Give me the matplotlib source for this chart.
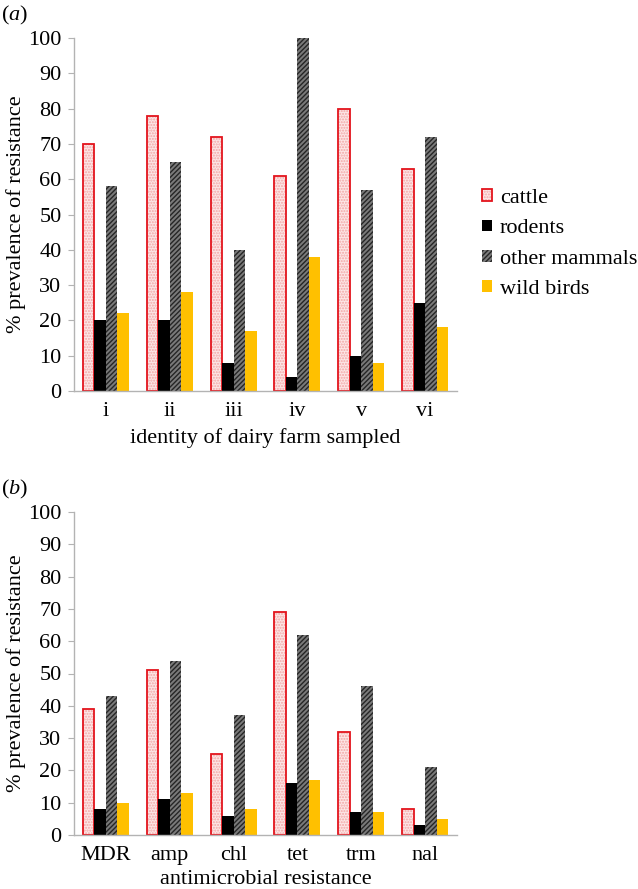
import matplotlib
matplotlib.use("Agg")
import numpy as np
import matplotlib.pyplot as plt
from matplotlib.patches import Patch

plt.rcParams['font.family'] = ['Liberation Serif', 'DejaVu Serif']
plt.rcParams['mathtext.fontset'] = 'custom'
plt.rcParams['mathtext.it'] = 'Liberation Serif:italic'
plt.rcParams['mathtext.rm'] = 'Liberation Serif'
plt.rcParams['hatch.linewidth'] = 1.0

farms = ["i", "ii", "iii", "iv", "v", "vi"]
cattle_a = [70, 78, 72, 61, 80, 63]
rodents_a = [20, 20, 8, 4, 10, 25]
mammals_a = [58, 65, 40, 100, 57, 72]
birds_a = [22, 28, 17, 38, 8, 18]

drugs = ["MDR", "amp", "chl", "tet", "trm", "nal"]
cattle_b = [39, 51, 25, 69, 32, 8]
rodents_b = [8, 11, 6, 16, 7, 3]
mammals_b = [43, 54, 37, 62, 46, 21]
birds_b = [10, 13, 8, 17, 7, 5]

series_names = ["cattle", "rodents", "other mammals", "wild birds"]

W, H = 638, 889
fig = plt.figure(figsize=(W / 100, H / 100), dpi=100)

GRAY = "#b3b3b3"
FS = 16
bw = 0.18


def styles():
    return [
        [dict(facecolor="#fde6e6", edgecolor="#f2a5a5", hatch="......", linewidth=0),
         dict(fill=False, edgecolor="#e3141c", linewidth=1.3)],
        [dict(facecolor="black", edgecolor="black", linewidth=0)],
        [dict(facecolor="#7a7a7a", edgecolor="#262626", hatch="///////", linewidth=0)],
        [dict(facecolor="#ffc000", edgecolor="#ffc000", linewidth=0)],
    ]


def panel(top, bottom, cats, data, xlabel, tag):
    ax = fig.add_axes([74 / W, (H - bottom) / H, 383 / W, (bottom - top) / H])
    x = np.arange(len(cats))
    for k, vals in enumerate(data):
        off = (k - 1.5) * bw
        for st in styles()[k]:
            ax.bar(x + off, vals, width=bw, **st)
    ax.set_xlim(-0.5, len(cats) - 0.5)
    ax.set_ylim(0, 100)
    ax.set_yticks(range(0, 101, 10))
    ax.set_xticks(x)
    ax.set_xticklabels(cats)
    for s in ["top", "right"]:
        ax.spines[s].set_visible(False)
    for s in ["left", "bottom"]:
        ax.spines[s].set_color(GRAY)
        ax.spines[s].set_linewidth(1.0)
    ax.tick_params(axis="y", length=4, color=GRAY, labelsize=FS, pad=5)
    ax.tick_params(axis="x", length=0, labelsize=FS, pad=8)
    ax.set_ylabel("% prevalence of resistance", fontsize=FS)
    ax.yaxis.set_label_coords(-0.125, 0.5)
    ax.set_xlabel(xlabel, fontsize=FS)
    ax.text(15 / W, 1 - (top - 23) / H, tag, transform=fig.transFigure,
            fontsize=FS, ha="center", va="center")
    return ax


ax1 = panel(38, 391, farms, [cattle_a, rodents_a, mammals_a, birds_a],
            "identity of dairy farm sampled", r"($\mathit{a}$)")
ax1.xaxis.set_label_coords(0.5, -0.105)
ax2 = panel(512, 835, drugs, [cattle_b, rodents_b, mammals_b, birds_b],
            "antimicrobial resistance", r"($\mathit{b}$)")
ax2.xaxis.set_label_coords(0.5, -0.108)

handles = []
for st in styles():
    handles.append(tuple(Patch(**d) for d in st))
fig.legend(handles, series_names, loc="center left",
           bbox_to_anchor=(482 / W, 1 - 244 / H), frameon=False,
           fontsize=FS, handlelength=0.45, handleheight=0.45,
           handletextpad=0.35, labelspacing=0.5, borderpad=0,
           borderaxespad=0)

fig.savefig("out.png", dpi=100)
